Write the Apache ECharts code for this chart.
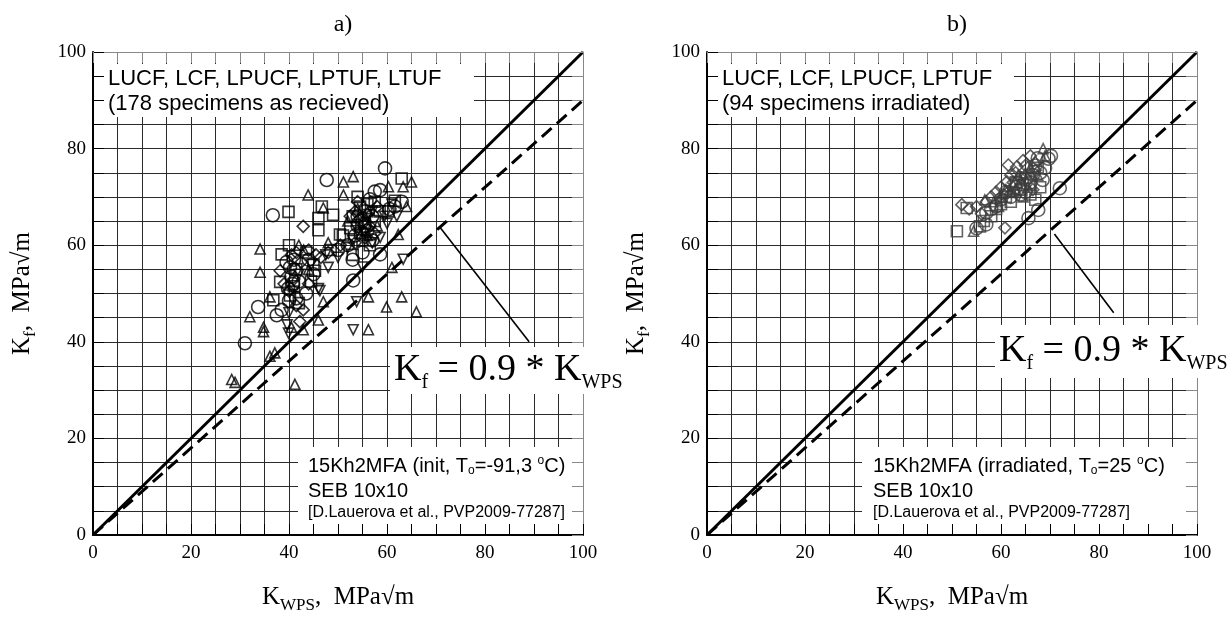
<!DOCTYPE html>
<html><head><meta charset="utf-8">
<script src="https://cdn.jsdelivr.net/npm/echarts@6/dist/echarts.min.js"></script>
<style>html,body{margin:0;padding:0;background:#fff}#c{width:1230px;height:619px}</style>
</head><body><div id="c"></div>
<script>
// ---------- data ----------
const tickLabels = ['0', '20', '40', '60', '80', '100'];
const ratio = 0.9;
const diagX = [0, 100];

// panel a) – 178 specimens as received
const lucfA = [[59.6,75.9],[47.7,73.5],[36.7,66.2],[58.6,71.4],[57.5,71.1],[61.6,68.0],[53.1,52.7],[58.6,58.1],[33.7,47.2],[37.5,45.5],[38.5,46.6],[31.0,39.7],[40.2,55.4],[40.5,53.5],[41,57],[39.8,51],[41.5,49],[42,52.5],[40,48.5],[43.5,50],[55,65],[56,63],[54,64],[57,66],[55.5,67],[53.5,62],[52,60],[55,58.5],[60.5,67.5],[56.5,69.5],[54,66],[45,54],[44,57],[41,55],[39.5,56.5],[53,57],[57,61],[50,59],[63,69],[55.5,64],[40.8,52]];
const lcfA = [[63,73.8],[39.9,66.9],[46.7,68],[49,66.3],[46,65.6],[46,63.1],[61.6,69.2],[60.3,67],[50.4,62.2],[38.5,58.1],[38.2,52.4],[36.8,48.6],[45.3,54.7],[45,56],[40.2,49.6],[41,51.5],[53,66],[54.5,68],[56,68.5],[55,61],[52.5,63.5],[55.5,64.5],[57.5,65],[53,58],[44.5,52.5],[42,48],[40,60],[48.5,59],[51,62],[56.5,60],[58.5,67],[57.5,69],[54,70],[41.5,55],[43.5,58.5],[54.5,62.5]];
const lpucfA = [[53.1,74.2],[51.1,73.1],[65,73.1],[63.3,72.1],[60.3,72.1],[43.9,70.4],[51.1,70.4],[64,68],[47,67.7],[34.1,59.2],[34.1,54.4],[62.3,62.2],[61,55.4],[63,49.3],[59.9,47.2],[66,46.2],[56.2,49.3],[32,45.2],[36.1,49.3],[56.2,42.5],[34.8,42.1],[34.8,43],[42.9,42.5],[46,44.5],[47,48.3],[28.3,32.2],[29,31.6],[36.1,37],[37.1,37.7],[41.2,31.2],[55.5,66],[52,65],[54,67.5],[42,60],[43,59],[48,60.5],[44,55],[56,62],[58,64],[40.5,43]];
const lptufA = [[58.6,61.6],[63.3,57.1],[53.1,42.5],[53.8,48.3],[48,55.4],[46.3,50.6],[39.6,43.5],[39.9,41.8],[46,51],[60,64.5],[61,68.5],[57,60.5],[55.5,62.5],[54,63],[56,65.5],[50,57.5],[52,59.5],[53,61],[42,54],[41,50.5],[44.5,56],[40,46],[47.5,58],[57,67],[59.5,66],[62,66],[55,55.5]];
const ltufA = [[42.9,63.9],[38.2,54.7],[42.9,46.6],[42.2,44.2],[41,53],[40,50.5],[42.5,56.5],[44,59],[45.5,58],[41.5,47.5],[52.5,66],[54.5,65.5],[56.5,64],[55,63],[53.5,60.5],[48,58.5],[50.5,60],[46.5,57.5],[58,68],[56,66.5],[53.5,67],[44,52],[40.5,58],[41.5,58.5],[39,52],[57.5,62.5],[54,69],[55.5,61.5]];

// panel b) – 94 specimens irradiated
const lucfB = [[57,64.3],[57,66.7],[65.6,65.6],[67.6,67.3],[72,71.8],[69.7,77.9],[70.2,78.5],[66,73],[65,71],[68,75],[67,76.5],[64,70.5],[62,70],[59,68],[61,71],[68.5,73.5],[66.5,74.5],[63,72],[55,63.5],[58,67.5],[60,69.5],[67.5,78],[69,76]];
const lcfB = [[51,62.9],[53,67.7],[55.7,63.9],[67,69.4],[58,66],[60,68.5],[62,69],[64,71.5],[66,72.5],[65,74],[63,73],[61,70],[67.5,76],[68,72],[56.5,65],[59,67.5],[66,70.5],[62.5,71],[64.5,72.5]];
const lpucfB = [[54.4,62.9],[56.7,69.4],[68.6,80],[60,70],[62.5,72.5],[65,75],[67,77.5],[63.5,74.5],[66,76],[61,71.5],[64,73.5],[58.5,69],[69,78.5],[62,71],[65.5,72],[59.5,68],[67.5,74.5],[64.5,70],[63,71.5]];
const lptufB = [[52,68.4],[53.5,67.5],[60.8,63.6],[61.5,76.6],[63.2,76.2],[61.2,73.1],[64.5,77.5],[66,78.5],[63,75],[60,72],[62,74.5],[65,76.5],[58,70],[59,71],[57,69],[55,68],[64,74],[66.5,71.5],[60.5,70.5],[62.5,73],[56,66.5],[67,75.5],[65.5,73.5]];

const leaderA = [[70.8,63.7],[89,40]];
const leaderB = [[70.9,62.3],[83,46]];

// ---------- chart ----------
const SERIF = 'Liberation Serif', SANS = 'Liberation Sans';
const chart = echarts.init(document.getElementById('c'));

const nameRich = {
  k: {fontFamily: SERIF, fontSize: 25, color: '#000', verticalAlign: 'middle'},
  s: {fontFamily: SERIF, fontSize: 17, color: '#000', verticalAlign: 'middle', padding: [16, 0, 0, 0]}
};

function xAxes(gi) {
  return [
    {gridIndex: gi, type: 'value', min: 0, max: 100, interval: 5, position: 'bottom', z: 10,
     axisLine: {show: true, onZero: false, lineStyle: {color: '#000', width: 2}},
     axisTick: {show: true, inside: true, length: 11, lineStyle: {color: '#000', width: 1}},
     axisLabel: {show: true, margin: 9, color: '#000', fontFamily: SERIF, fontSize: 19,
       formatter: v => tickLabels.includes(String(Math.round(v))) ? String(Math.round(v)) : ''},
     splitLine: {show: false},
     name: '{k|K}{s|WPS}{k|,  MPa√m}', nameLocation: 'middle', nameGap: 46,
     nameTextStyle: {rich: nameRich}},
    {gridIndex: gi, type: 'value', min: 0, max: 100, interval: 5, position: 'top', z: 10,
     axisLine: {show: true, onZero: false, lineStyle: {color: '#888', width: 1}},
     axisTick: {show: true, inside: true, length: 11, lineStyle: {color: '#888', width: 1}},
     axisLabel: {show: false}, splitLine: {show: false}},
    {gridIndex: gi, type: 'value', min: 0, max: 100, interval: 5, position: 'bottom', z: 0,
     axisLine: {show: false}, axisTick: {show: false}, axisLabel: {show: false},
     splitLine: {show: true, lineStyle: {color: '#2a2a2a', width: 1}}}
  ];
}
function yAxes(gi) {
  return [
    {gridIndex: gi, type: 'value', min: 0, max: 100, interval: 5, position: 'left', z: 10,
     axisLine: {show: true, onZero: false, lineStyle: {color: '#000', width: 2}},
     axisTick: {show: true, inside: true, length: 11, lineStyle: {color: '#000', width: 1}},
     axisLabel: {show: true, margin: 7, color: '#000', fontFamily: SERIF, fontSize: 19,
       formatter: v => tickLabels.includes(String(Math.round(v))) ? String(Math.round(v)) : ''},
     splitLine: {show: false},
     name: '{k|K}{s|f}{k|,  MPa√m}', nameLocation: 'middle', nameGap: 54, nameRotate: 90,
     nameTextStyle: {rich: nameRich}},
    {gridIndex: gi, type: 'value', min: 0, max: 100, interval: 5, position: 'right', z: 10,
     axisLine: {show: true, onZero: false, lineStyle: {color: '#888', width: 1}},
     axisTick: {show: true, inside: true, length: 11, lineStyle: {color: '#888', width: 1}},
     axisLabel: {show: false}, splitLine: {show: false}},
    {gridIndex: gi, type: 'value', min: 0, max: 100, interval: 5, position: 'left', z: 0,
     axisLine: {show: false}, axisTick: {show: false}, axisLabel: {show: false},
     splitLine: {show: true, lineStyle: {color: '#2a2a2a', width: 1}}}
  ];
}

function scatter(name, data, ai, symbol, size, color, rotate) {
  return {type: 'scatter', name, data, xAxisIndex: ai, yAxisIndex: ai, symbol, symbolSize: size,
    symbolRotate: rotate || 0, z: 3, silent: true,
    itemStyle: {color: 'rgba(0,0,0,0)', borderColor: color, borderWidth: 1.6}};
}
function lines(ai, leader) {
  return [
    {type: 'line', xAxisIndex: ai, yAxisIndex: ai, data: diagX.map(x => [x, x]), symbol: 'none',
     lineStyle: {color: '#000', width: 3}, z: 4, silent: true},
    {type: 'line', xAxisIndex: ai, yAxisIndex: ai, data: diagX.map(x => [x, ratio * x]), symbol: 'none',
     lineStyle: {color: '#000', width: 3, type: [13, 7]}, z: 4, silent: true},
    {type: 'line', xAxisIndex: ai, yAxisIndex: ai, data: leader, symbol: 'none',
     lineStyle: {color: '#000', width: 1.6}, z: 4, silent: true}
  ];
}

const subRich = {
  n: {fontFamily: SANS, fontSize: 20, color: '#000', verticalAlign: 'middle'},
  sb: {fontFamily: SANS, fontSize: 12, color: '#000', verticalAlign: 'middle', padding: [10, 0, 0, 0]},
  sp: {fontFamily: SANS, fontSize: 12, color: '#000', verticalAlign: 'middle', padding: [0, 0, 10, 0]}
};
const formRich = {
  k: {fontFamily: SERIF, fontSize: 38, color: '#000', verticalAlign: 'middle'},
  s: {fontFamily: SERIF, fontSize: 20, color: '#000', verticalAlign: 'middle', padding: [24, 0, 0, 0]}
};

function boxes(ox, topText, botLine1, fx, fy, fw, fh, bx, btx) {
  return [
    {type: 'rect', z: 5, shape: {x: ox + 11, y: 64, width: topText.w, height: 53}, style: {fill: '#fff'}},
    {type: 'text', z: 6, x: ox + 15, y: 66, style: {text: topText.t, font: '22px ' + SANS, fill: '#000', lineHeight: 25, verticalAlign: 'top'}},
    {type: 'rect', z: 5, shape: {x: bx, y: 447, width: ox + 490 - bx, height: 82}, style: {fill: '#fff'}},
    {type: 'text', z: 6, x: btx, y: 466, style: {text: botLine1, rich: subRich, verticalAlign: 'middle'}},
    {type: 'text', z: 6, x: btx, y: 491, style: {text: 'SEB 10x10', font: '20px ' + SANS, fill: '#000', verticalAlign: 'middle'}},
    {type: 'text', z: 6, x: btx, y: 513, style: {text: '[D.Lauerova et al., PVP2009-77287]', font: '16px ' + SANS, fill: '#000', verticalAlign: 'middle'}},
    {type: 'rect', z: 20, shape: {x: fx, y: fy, width: fw, height: fh}, style: {fill: '#fff'}},
    {type: 'text', z: 21, x: fx + 4, y: fy + fh / 2, style: {text: '{k|K}{s|f}{k| = 0.9 * K}{s|WPS}', rich: formRich, verticalAlign: 'middle'}}
  ];
}

const option = {
  animation: false,
  backgroundColor: '#fff',
  title: [
    {text: 'a)', left: 338, top: 8, textAlign: 'center', textStyle: {fontFamily: SERIF, fontSize: 24, fontWeight: 'normal', color: '#000'}},
    {text: 'b)', left: 952, top: 8, textAlign: 'center', textStyle: {fontFamily: SERIF, fontSize: 24, fontWeight: 'normal', color: '#000'}}
  ],
  grid: [
    {left: 93, top: 52, width: 490, height: 489},
    {left: 707, top: 52, width: 490, height: 489}
  ],
  xAxis: [...xAxes(0), ...xAxes(1)],
  yAxis: [...yAxes(0), ...yAxes(1)],
  series: [
    ...lines(0, leaderA),
    scatter('LUCF', lucfA, 0, 'circle', 13, '#000'),
    scatter('LCF', lcfA, 0, 'rect', 11, '#000'),
    scatter('LPUCF', lpucfA, 0, 'triangle', 10, '#000'),
    scatter('LPTUF', lptufA, 0, 'triangle', 10, '#000', 180),
    scatter('LTUF', ltufA, 0, 'diamond', 12, '#000'),
    ...lines(3, leaderB),
    scatter('LUCF', lucfB, 3, 'circle', 13, '#3c3c3c'),
    scatter('LCF', lcfB, 3, 'rect', 11, '#3c3c3c'),
    scatter('LPUCF', lpucfB, 3, 'triangle', 10, '#3c3c3c'),
    scatter('LPTUF', lptufB, 3, 'diamond', 12, '#3c3c3c')
  ],
  graphic: [
    ...boxes(93, {t: 'LUCF, LCF, LPUCF, LPTUF, LTUF\n(178 specimens as recieved)', w: 370}, '{n|15Kh2MFA (init, T}{sb|o}{n|=-91,3 }{sp|o}{n|C)}', 390, 347, 230, 47, 298, 308),
    ...boxes(707, {t: 'LUCF, LCF, LPUCF, LPTUF\n(94 specimens irradiated)', w: 296}, '{n|15Kh2MFA (irradiated, T}{sb|o}{n|=25 }{sp|o}{n|C)}', 995, 325, 235, 53, 862, 873)
  ]
};
chart.setOption(option);
</script>
</body></html>
